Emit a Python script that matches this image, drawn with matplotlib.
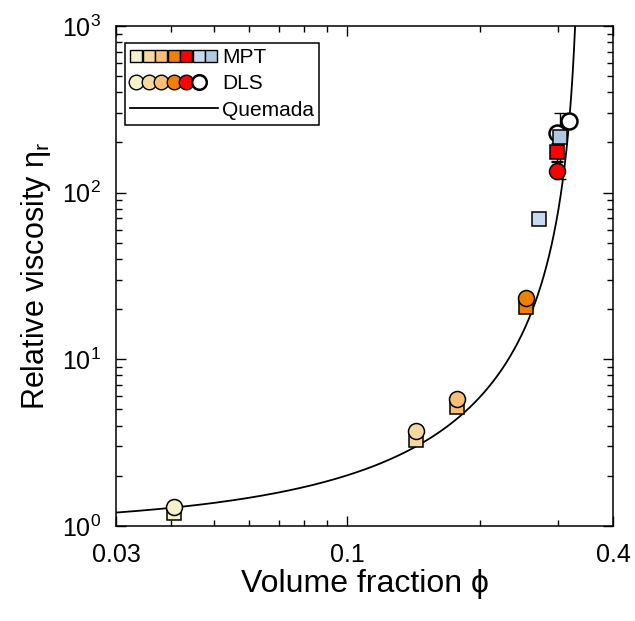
import numpy as np
import matplotlib
matplotlib.use('Agg')
import matplotlib.pyplot as plt
from matplotlib.lines import Line2D
from matplotlib.legend_handler import HandlerTuple

plt.rcParams['font.family'] = ['Liberation Sans', 'DejaVu Sans']
plt.rcParams['mathtext.fontset'] = 'custom'
plt.rcParams['mathtext.rm'] = 'Liberation Sans'
plt.rcParams['mathtext.it'] = 'Liberation Sans:italic'

# MPT (squares), same order as the legend
mpt_phi = [0.0406, 0.143, 0.177, 0.254, 0.2985, 0.272, 0.303]
mpt_eta = [1.20, 3.28, 5.18, 20.6, 175, 69.5, 216]
mpt_colors = ['#f5f1c8', '#f6d9a2', '#f9bf74', '#f08000', '#ff0000', '#c8daf0', '#b0c8e2']

# DLS (circles)
dls_phi = [0.0406, 0.143, 0.177, 0.254, 0.2985, 0.2985, 0.318]
dls_eta = [1.30, 3.71, 5.78, 23.3, 135, 227, 270]
dls_colors = ['#f5f1c8', '#f6d9a2', '#f9bf74', '#f08000', '#ff0000', 'white', 'white']

# error bars
err_phi = [0.303, 0.2985, 0.2985]
err_eta = [216, 175, 135]
err_lo = [121, 155, 125]
err_hi = [302, 199, 153]

# Quemada model
phi_max = 0.339

fig = plt.figure(figsize=(6.35, 6.21), dpi=100)
ax = fig.add_axes([0.1827, 0.153, 0.7827, 0.8052])

phi_fit = np.linspace(0.03, 0.3285, 3000)
eta_fit = (1 - phi_fit / phi_max) ** -2
ax.plot(phi_fit, eta_fit, color='black', lw=1.3, zorder=1)

yerr = [np.array(err_eta) - np.array(err_lo), np.array(err_hi) - np.array(err_eta)]
ax.errorbar(err_phi, err_eta, yerr=yerr, fmt='none', ecolor='black',
            elinewidth=1, capsize=4.5, capthick=1, zorder=1.5)

for p, e, c in zip(mpt_phi, mpt_eta, mpt_colors):
    ax.plot(p, e, ls='none', marker='s', ms=9.8, mfc=c, mec='black', mew=1.1, zorder=3)

for i, (p, e, c) in enumerate(zip(dls_phi, dls_eta, dls_colors)):
    mew = 1.8 if c == 'white' else 1.1
    z = 2 if i == 5 else 4
    ax.plot(p, e, ls='none', marker='o', ms=11.5, mfc=c, mec='black', mew=mew, zorder=z)

ax.set_xscale('log')
ax.set_yscale('log')
ax.set_xlim(0.03, 0.4)
ax.set_ylim(1, 1000)
ax.set_xticks([0.03, 0.1, 0.4])
ax.set_xticklabels(['0.03', '0.1', '0.4'])
ax.set_xticks([0.04, 0.05, 0.06, 0.07, 0.08, 0.09, 0.2, 0.3], minor=True)
ax.xaxis.set_minor_formatter(matplotlib.ticker.NullFormatter())

ax.tick_params(which='both', direction='in', top=True, right=True, width=1, labelsize=18)
ax.tick_params(which='major', length=7)
ax.tick_params(which='minor', length=4.5)
ax.tick_params(axis='x', pad=12)
ax.tick_params(axis='y', pad=11)
for s in ax.spines.values():
    s.set_linewidth(1.1)

ax.set_xlabel('Volume fraction \u03d5', fontsize=23, labelpad=2)
ax.set_ylabel('Relative viscosity \u03b7$_{\\mathregular{r}}$', fontsize=22, labelpad=6)

sq_handles = tuple(Line2D([], [], ls='none', marker='s', ms=9.2, mfc=c, mec='black', mew=1)
                   for c in mpt_colors)
ci_handles = tuple(Line2D([], [], ls='none', marker='o', ms=10.5, mfc=c, mec='black',
                          mew=1.8 if c == 'white' else 1)
                   for c in dls_colors[:6])
line_handle = Line2D([], [], color='black', lw=1.3)

leg = ax.legend([sq_handles, ci_handles, line_handle], ['MPT', 'DLS', 'Quemada'],
                handler_map={tuple: HandlerTuple(ndivide=7, pad=0)},
                loc='upper left', bbox_to_anchor=(0.018, 0.966), borderaxespad=0,
                fontsize=15, handlelength=4.2, handletextpad=0.2, labelspacing=0.35,
                borderpad=0.25, fancybox=False, framealpha=1, edgecolor='black')
leg.get_frame().set_linewidth(1.1)

fig.savefig('out.png', dpi=100)
